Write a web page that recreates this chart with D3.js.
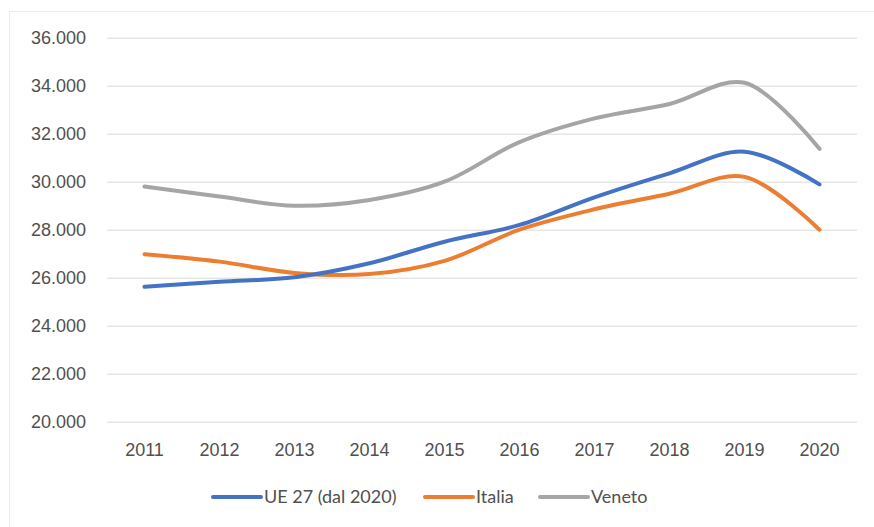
<!DOCTYPE html>
<html>
<head>
<meta charset="utf-8">
<script src="https://cdn.jsdelivr.net/npm/d3@7"></script>
<style>
	body { margin: 0; background: #fff; }
	svg { display: block; font-family: Lato, "Open Sans", sans-serif; }
</style>
</head>
<body>
<svg id="chart" width="874" height="527"></svg>
<script>
"use strict";

// Data (euro, values per inhabitant)
const years = ["2011", "2012", "2013", "2014", "2015", "2016", "2017", "2018", "2019", "2020"];
const ue27 = [25620, 25830, 26020, 26600, 27500, 28200, 29350, 30350, 31250, 29890];
const italia = [26980, 26670, 26200, 26150, 26700, 28000, 28850, 29500, 30200, 28000];
const veneto = [29800, 29380, 29000, 29240, 30000, 31650, 32640, 33240, 34120, 31370];
const yTicks = [20000, 22000, 24000, 26000, 28000, 30000, 32000, 34000, 36000];

const series = [
	{name: "UE 27 (dal 2020)", values: ue27, color: "#4472C4"},
	{name: "Italia", values: italia, color: "#ED7D31"},
	{name: "Veneto", values: veneto, color: "#A5A5A5"}
];

const svg = d3.select("#chart");

// outer chart frame
svg.append("rect")
	.attr("x", 9.5).attr("y", 11.5)
	.attr("width", 870).attr("height", 530)
	.attr("fill", "none")
	.attr("stroke", "#ececec");

const x = d3.scaleBand().domain(years).range([107, 857]);
const y = d3.scaleLinear().domain([20000, 36000]).range([421.7, 37.7]);

const fmt = d3.format(",.0f");
const itNum = v => fmt(v).replace(/,/g, ".");

// y axis (labels + gridlines)
const yAxis = svg.append("g")
	.attr("transform", "translate(107,0)")
	.call(d3.axisLeft(y).tickValues(yTicks).tickSize(-750).tickPadding(21).tickFormat(itNum));
yAxis.select(".domain").remove();
yAxis.selectAll(".tick line").attr("stroke", "#d9d9d9");
yAxis.selectAll(".tick text")
	.attr("fill", "#505050")
	.style("font-size", "18px");

// x axis labels
const xAxis = svg.append("g")
	.attr("transform", "translate(0,421.7)")
	.call(d3.axisBottom(x).tickSize(0).tickPadding(22));
xAxis.select(".domain").remove();
xAxis.selectAll(".tick text")
	.attr("fill", "#505050")
	.style("font-size", "18px");

// smoothed lines
const line = d3.line()
	.x((d, i) => x(years[i]) + x.bandwidth() / 2)
	.y(d => y(d))
	.curve(d3.curveCatmullRom.alpha(0.5));

svg.append("g")
	.selectAll("path")
	.data(series.slice().reverse())
	.enter()
	.append("path")
	.attr("d", d => line(d.values))
	.attr("fill", "none")
	.attr("stroke", d => d.color)
	.attr("stroke-width", 4)
	.attr("stroke-linecap", "round");

// legend
const legendPos = [213, 425, 540];
const legend = svg.append("g")
	.selectAll("g")
	.data(series)
	.enter()
	.append("g")
	.attr("transform", (d, i) => `translate(${legendPos[i]},497)`);

legend.append("line")
	.attr("x1", 0).attr("x2", 48)
	.attr("stroke", d => d.color)
	.attr("stroke-width", 4)
	.attr("stroke-linecap", "round");

legend.append("text")
	.attr("x", 51)
	.attr("dy", "0.35em")
	.attr("fill", "#505050")
	.style("font-size", "18px")
	.text(d => d.name);
</script>
</body>
</html>
